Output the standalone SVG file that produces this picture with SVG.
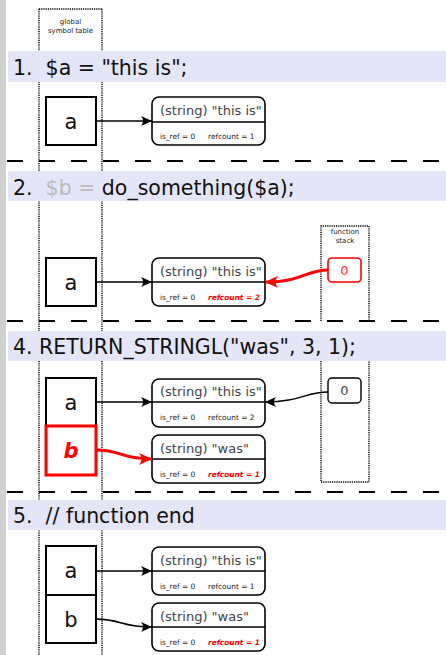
<svg xmlns="http://www.w3.org/2000/svg" width="446" height="655" viewBox="0 0 446 655">
  <style>
    .strip { fill: #d0d0d0; }
    .band { fill: #e5e5f8; }
    .hdr { font-family: "DejaVu Sans", sans-serif; font-size: 20.5px; fill: #111; }
    .dim { fill: #bbbbbb; }
    .dot { fill: none; stroke: #000; stroke-width: 1.4; stroke-dasharray: 1.2 1; }
    .sep { fill: none; stroke: #000; stroke-width: 2; stroke-dasharray: 16 16; }
    .cap { font-family: "DejaVu Sans", sans-serif; font-size: 7px; fill: #222; text-anchor: middle; }
    .slot { fill: #fff; stroke: #000; stroke-width: 2; }
    .slot-hot { fill: #fff; stroke: #ff0000; stroke-width: 3; }
    .var { font-family: "DejaVu Sans", sans-serif; font-size: 21px; fill: #111; text-anchor: middle; }
    .var-hot { font-family: "DejaVu Sans", sans-serif; font-size: 21px; font-weight: bold; font-style: italic; fill: #ff0000; text-anchor: middle; }
    .zval { fill: #fff; stroke: #000; stroke-width: 1.6; }
    .div { stroke: #000; stroke-width: 1.6; }
    .ztxt { font-family: "DejaVu Sans", sans-serif; font-size: 13px; fill: #444; }
    .meta { font-family: "DejaVu Sans", sans-serif; font-size: 7.4px; fill: #222; }
    .meta-hot { font-family: "DejaVu Sans", sans-serif; font-size: 7.4px; font-weight: bold; font-style: italic; fill: #ff0000; }
    .stk { fill: #fff; stroke: #000; stroke-width: 1.4; }
    .stk-hot { fill: #fff; stroke: #ff0000; stroke-width: 1.6; }
    .stxt { font-family: "DejaVu Sans", sans-serif; font-size: 13px; fill: #444; text-anchor: middle; }
    .stxt-hot { font-family: "DejaVu Sans", sans-serif; font-size: 13px; fill: #ff3333; text-anchor: middle; }
    .link { fill: none; stroke: #000; stroke-width: 1.5; marker-end: url(#head); }
    .link-hot { fill: none; stroke: #ff0000; stroke-width: 3; marker-end: url(#head-hot); }
  </style>
  <defs>
    <marker id="head" markerUnits="userSpaceOnUse" markerWidth="14" markerHeight="12" viewBox="-12 -6 14 12" refX="0" refY="0" orient="auto">
      <path d="M0,0 L-11,-5 Q-7,0 -11,5 Z" fill="#000"/>
    </marker>
    <marker id="head-hot" markerUnits="userSpaceOnUse" markerWidth="16" markerHeight="14" viewBox="-14 -7 16 14" refX="0" refY="0" orient="auto">
      <path d="M0,0 L-13,-6 Q-8,0 -13,6 Z" fill="#ff0000"/>
    </marker>
  </defs>

  <rect width="446" height="655" fill="#fff"/>
  <rect class="strip" x="0" y="0" width="6" height="655"/>

  <!-- column guides -->
  <g id="columns">
    <path class="dot" d="M39,9 V655 M102,9 V655 M39,9 H102"/>
    <text class="cap" x="70.5" y="24">global</text>
    <text class="cap" x="70.5" y="33">symbol table</text>
    <path class="dot" d="M321,321 V226 H369 V321 M321,361 V482 H369 V361"/>
    <text class="cap" x="345" y="234">function</text>
    <text class="cap" x="345" y="243">stack</text>
  </g>

  <!-- step separators -->
  <g id="separators">
    <path class="sep" d="M7,161 H446 M7,321 H446 M7,492 H446"/>
  </g>

  <!-- step headings -->
  <g id="step1">
    <rect class="band" x="8" y="51" width="438" height="31"/>
    <text class="hdr" x="13" y="75" xml:space="preserve">1.  $a = "this is";</text>
  </g>
  <g id="step2">
    <rect class="band" x="8" y="171" width="438" height="30"/>
    <text class="hdr" x="13" y="195" xml:space="preserve">2.  <tspan class="dim">$b =</tspan> do_something($a);</text>
  </g>
  <g id="step4">
    <rect class="band" x="8" y="331" width="438" height="30"/>
    <text class="hdr" x="13" y="354" xml:space="preserve">4. RETURN_STRINGL("was", 3, 1);</text>
  </g>
  <g id="step5">
    <rect class="band" x="8" y="500" width="438" height="30"/>
    <text class="hdr" x="13" y="523" xml:space="preserve">5.  // function end</text>
  </g>

  <!-- step 1 -->
  <g id="s1-a">
    <rect class="slot" x="46" y="97" width="50" height="48"/>
    <text class="var" x="71" y="129">a</text>
  </g>
  <g id="s1-zval">
    <rect class="zval" x="152" y="97" width="113" height="48" rx="7"/>
    <line class="div" x1="152" y1="122" x2="265" y2="122"/>
    <text class="ztxt" x="160" y="115">(string) "this is"</text>
    <text class="meta" x="160" y="139">is_ref = 0</text>
    <text class="meta" x="208" y="139">refcount = 1</text>
  </g>

  <!-- step 2 -->
  <g id="s2-a">
    <rect class="slot" x="46" y="258" width="50" height="48"/>
    <text class="var" x="71" y="290">a</text>
  </g>
  <g id="s2-zval">
    <rect class="zval" x="152" y="258" width="113" height="48" rx="7"/>
    <line class="div" x1="152" y1="282" x2="265" y2="282"/>
    <text class="ztxt" x="160" y="276">(string) "this is"</text>
    <text class="meta" x="160" y="300">is_ref = 0</text>
    <text class="meta-hot" x="208" y="300">refcount = 2</text>
  </g>
  <g id="s2-arg">
    <rect class="stk-hot" x="328" y="258" width="33" height="24" rx="4"/>
    <text class="stxt-hot" x="344.5" y="275">0</text>
  </g>

  <!-- step 4 -->
  <g id="s4-a">
    <rect class="slot" x="46" y="378" width="50" height="48"/>
    <text class="var" x="71" y="410">a</text>
  </g>
  <g id="s4-b">
    <rect class="slot-hot" x="46" y="426" width="50" height="49"/>
    <text class="var-hot" x="71" y="458">b</text>
  </g>
  <g id="s4-zval1">
    <rect class="zval" x="152" y="379" width="113" height="48" rx="7"/>
    <line class="div" x1="152" y1="402" x2="265" y2="402"/>
    <text class="ztxt" x="160" y="396">(string) "this is"</text>
    <text class="meta" x="160" y="420">is_ref = 0</text>
    <text class="meta" x="208" y="420">refcount = 2</text>
  </g>
  <g id="s4-zval2">
    <rect class="zval" x="152" y="435" width="113" height="48" rx="7"/>
    <line class="div" x1="152" y1="459" x2="265" y2="459"/>
    <text class="ztxt" x="160" y="453">(string) "was"</text>
    <text class="meta" x="160" y="477">is_ref = 0</text>
    <text class="meta-hot" x="208" y="477">refcount = 1</text>
  </g>
  <g id="s4-arg">
    <rect class="stk" x="328" y="378" width="33" height="25" rx="4"/>
    <text class="stxt" x="344.5" y="395">0</text>
  </g>

  <!-- step 5 -->
  <g id="s5-a">
    <rect class="slot" x="46" y="546" width="50" height="49"/>
    <text class="var" x="71" y="578">a</text>
  </g>
  <g id="s5-b">
    <rect class="slot" x="46" y="595" width="50" height="48"/>
    <text class="var" x="71" y="627">b</text>
  </g>
  <g id="s5-zval1">
    <rect class="zval" x="152" y="547" width="113" height="48" rx="7"/>
    <line class="div" x1="152" y1="571" x2="265" y2="571"/>
    <text class="ztxt" x="160" y="565">(string) "this is"</text>
    <text class="meta" x="160" y="589">is_ref = 0</text>
    <text class="meta" x="208" y="589">refcount = 1</text>
  </g>
  <g id="s5-zval2">
    <rect class="zval" x="152" y="603" width="113" height="48" rx="7"/>
    <line class="div" x1="152" y1="627" x2="265" y2="627"/>
    <text class="ztxt" x="160" y="621">(string) "was"</text>
    <text class="meta" x="160" y="645">is_ref = 0</text>
    <text class="meta-hot" x="208" y="645">refcount = 1</text>
  </g>

  <!-- pointers -->
  <g id="connectors">
    <path class="link" d="M96,121 H152"/>
    <path class="link" d="M96,282 H152"/>
    <path class="link-hot" d="M328,270 C306,270 302,282 265,282"/>
    <path class="link" d="M96,402 H152"/>
    <path class="link" d="M328,392 C306,392 300,402 265,402"/>
    <path class="link-hot" d="M96,450 C122,450 120,459 152,459"/>
    <path class="link" d="M96,571 H152"/>
    <path class="link" d="M96,619 C122,619 120,627 152,627"/>
  </g>
</svg>
